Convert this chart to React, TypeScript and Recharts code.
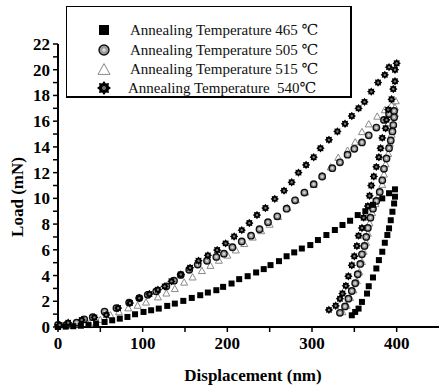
import { Legend, Scatter, ScatterChart, XAxis, YAxis } from 'recharts'

// nanoindentation load–displacement curves, loading + unloading branches
const load465 = [
  [0, 0], [9, 0.03], [18, 0.06], [27, 0.1], [36, 0.15], [45, 0.27], [55, 0.39], [64, 0.52], [73, 0.65], [82, 0.78],
  [91, 0.99], [101, 1.17], [110, 1.3], [119, 1.43], [129, 1.64], [138, 1.82], [148, 2.03], [158, 2.26], [168, 2.47],
  [177, 2.68], [187, 2.86], [195, 3.12], [205, 3.38], [214, 3.72], [224, 3.95], [234, 4.24], [243, 4.5], [251, 4.81],
  [261, 5.12], [270, 5.5], [279, 5.8], [288, 6.1], [298, 6.37], [307, 6.76], [317, 7.15], [327, 7.54], [336, 7.93],
  [345, 8.26], [354, 8.7], [363, 9.0], [372, 9.5], [383, 10.0], [391, 10.4], [398, 10.7]
]
const unload465 = [
  [398, 10.13], [397, 9.6], [395, 8.96], [393, 8.3], [391, 7.67], [389, 7.15], [386, 6.55], [383, 5.85], [379, 5.2],
  [376, 4.55], [372, 3.85], [367, 3.17], [365, 2.6], [359, 1.95], [355, 1.43], [351, 1.17], [347, 0.91]
]

const load505 = [
  [0, 0.16], [10, 0.16], [22, 0.34], [31, 0.6], [41, 0.76], [55, 1.2], [69, 1.47], [84, 1.9], [96, 2.25], [106, 2.5],
  [116, 2.77], [128, 3.16], [137, 3.6], [145, 4.05], [155, 4.45], [165, 4.85], [176, 5.15], [187, 5.45], [196, 5.7],
  [206, 6.2], [217, 6.65], [228, 7.1], [238, 7.6], [248, 8.15], [259, 8.6], [270, 9.2], [280, 9.85], [291, 10.45],
  [302, 11.1], [312, 11.7], [324, 12.35], [333, 12.8], [342, 13.4], [350, 13.85], [359, 14.35], [367, 14.9],
  [376, 15.5], [385, 16.1], [391, 16.55], [397, 16.8]
]
const unload505 = [
  [397, 16.3], [396, 15.7], [395, 15.2], [393, 14.5], [391, 13.9], [388, 13.1], [385, 12.3], [383, 11.4], [380, 10.5],
  [376, 9.8], [372, 9.2], [369, 8.5], [366, 7.7], [364, 7.0], [362, 6.3], [359, 5.65], [357, 4.9], [354, 4.1],
  [351, 3.4], [347, 2.8], [343, 2.2], [339, 1.6], [333, 1.1]
]

const load515 = [
  [0, 0.1], [12, 0.15], [24, 0.25], [37, 0.3], [50, 0.6], [62, 0.95], [72, 1.2], [83, 1.5], [94, 1.7], [104, 1.95],
  [118, 2.35], [128, 2.65], [138, 3.0], [149, 3.5], [159, 3.9], [170, 4.4], [180, 4.8], [190, 5.2], [200, 5.6],
  [210, 6.0], [220, 6.5], [230, 7.0], [240, 7.5], [250, 8.0], [260, 8.6], [271, 9.3], [281, 9.9], [292, 10.5],
  [302, 11.1], [312, 11.8], [322, 12.45], [331, 13.2], [342, 13.75], [351, 14.4], [359, 15.2], [367, 15.8],
  [377, 16.4], [386, 16.9], [394, 17.3], [399, 17.6]
]
const unload515 = [
  [398, 17.1], [398, 16.6], [396, 15.8], [394, 15.0], [392, 14.3], [390, 13.5], [387, 12.7], [385, 11.9], [383, 11.1],
  [379, 10.3], [375, 9.6], [371, 8.9], [368, 8.1], [366, 7.3], [364, 6.6], [361, 5.9], [359, 5.1], [356, 4.3],
  [353, 3.6], [349, 2.9], [345, 2.3], [341, 1.7], [336, 1.2]
]

const load540 = [
  [2, 0.16], [12, 0.34], [28, 0.55], [43, 0.75], [57, 0.94], [71, 1.47], [85, 1.86], [96, 2.25], [108, 2.56],
  [118, 2.9], [126, 3.16], [134, 3.55], [145, 4.08], [156, 4.6], [166, 5.15], [177, 5.57], [188, 5.98], [198, 6.5],
  [208, 7.04], [217, 7.53], [226, 8.08], [235, 8.7], [245, 9.25], [256, 9.96], [267, 10.6], [276, 11.25], [284, 12.0],
  [293, 12.6], [302, 13.2], [310, 13.9], [320, 14.55], [330, 15.2], [339, 15.8], [347, 16.4], [355, 17.0],
  [362, 17.5], [370, 18.3], [378, 19.0], [386, 19.6], [391, 20.2], [400, 20.5]
]
const unload540 = [
  [398, 20.0], [398, 19.1], [396, 18.5], [394, 17.7], [390, 16.9], [388, 16.1], [387, 15.45], [383, 14.7], [381, 13.9],
  [379, 13.2], [376, 12.45], [373, 11.7], [370, 11.0], [368, 10.2], [366, 9.4], [361, 8.5], [359, 7.7], [355, 7.1],
  [353, 6.3], [350, 5.5], [347, 4.8], [343, 3.95], [340, 3.2], [336, 2.6], [333, 2.2], [328, 1.65], [320, 1.33]
]

const seriesNames = [
  'Annealing Temperature 465 ℃',
  'Annealing Temperature 505 ℃',
  'Annealing Temperature 515 ℃',
  'Annealing Temperature  540℃'
]

const xTicks = [0, 50, 100, 150, 200, 250, 300, 350, 400]
const yTicks = [0, 1, 2, 3, 4, 5, 6, 7, 8, 9, 10, 11, 12, 13, 14, 15, 16, 17, 18, 19, 20, 21, 22]

const toPoints = (rows: number[][]) => rows.map(([x, y]) => ({ x, y }))

const serif = 'Liberation Serif, DejaVu Serif, serif'

function Square({ cx, cy, s = 6 }: any) {
  return <rect x={cx - s / 2} y={cy - s / 2} width={s} height={s} fill="#000" />
}

function Dot({ cx, cy, r = 3.2 }: any) {
  return (
    <g>
      <circle cx={cx} cy={cy} r={r} fill="#9c9c9c" stroke="#111" strokeWidth={1.4} />
      <circle cx={cx} cy={cy} r={r * 0.35} fill="#ddd" />
    </g>
  )
}

function Tri({ cx, cy, s = 7 }: any) {
  const h = s * 0.9
  return (
    <polygon
      points={`${cx},${cy - h / 2} ${cx - s / 2},${cy + h / 2} ${cx + s / 2},${cy + h / 2}`}
      fill="#fff"
      stroke="#8a8a8a"
      strokeWidth={1}
    />
  )
}

function Star({ cx, cy, r = 4.2 }: any) {
  const pts: string[] = []
  for (let i = 0; i < 16; i++) {
    const a = (Math.PI / 8) * i - Math.PI / 2
    const rr = i % 2 === 0 ? r : r * 0.7
    pts.push(`${cx + rr * Math.cos(a)},${cy + rr * Math.sin(a)}`)
  }
  return (
    <g>
      <polygon points={pts.join(' ')} fill="#000" />
      <circle cx={cx} cy={cy} r={r * 0.28} fill="#777" />
    </g>
  )
}

function LegendBox() {
  const rowY = [23, 43, 62, 81]
  const icons = [
    <Square cx={37} cy={rowY[0]} s={10} />,
    <Dot cx={37} cy={rowY[1]} r={5} />,
    <Tri cx={37} cy={rowY[2]} s={12} />,
    <Star cx={37} cy={rowY[3]} r={7} />
  ]
  return (
    <div
      style={{
        width: 283,
        height: 89,
        borderStyle: 'solid',
        borderColor: '#000',
        borderWidth: '1.5px 2.5px 2.5px 1.5px',
        background: '#fff'
      }}
    >
      <svg width={283} height={89} style={{ display: 'block' }}>
        {icons.map((icon, i) => (
          <g key={i}>{icon}</g>
        ))}
        {seriesNames.map((name, i) => (
          <text
            key={name}
            x={i === 3 ? 61 : 63}
            y={rowY[i] + 5}
            fontSize={15}
            fill="#111"
            style={{ whiteSpace: 'pre', fontFamily: serif }}
          >
            {name}
          </text>
        ))}
      </svg>
    </div>
  )
}

const tickStyle = { fill: '#000', fontSize: 17, fontWeight: 'bold', style: { fontFamily: serif } }

export default function App() {
  return (
    <div style={{ position: 'absolute', left: 0, top: 0, background: '#fff', fontFamily: serif }}>
      <ScatterChart width={439} height={386} margin={{ top: 44, right: 0, bottom: 0, left: 0 }}>
        <XAxis
          type="number"
          dataKey="x"
          domain={[0, 450]}
          ticks={xTicks}
          interval={0}
          height={59}
          stroke="#000"
          axisLine={{ stroke: '#000', strokeWidth: 2 }}
          tickLine={{ stroke: '#000', strokeWidth: 1.5 }}
          tickSize={5}
          tickMargin={5}
          tick={tickStyle}
          tickFormatter={(v: number) => (v % 100 === 0 ? String(v) : '')}
          label={() => (
            <text x={253} y={381} textAnchor="middle" fontSize={17} fontWeight="bold" fill="#000" style={{ fontFamily: serif }}>
              Displacement (nm)
            </text>
          )}
        />
        <YAxis
          type="number"
          dataKey="y"
          domain={[0, 22]}
          ticks={yTicks}
          interval={0}
          width={58}
          stroke="#000"
          axisLine={{ stroke: '#000', strokeWidth: 2 }}
          tickLine={{ stroke: '#000', strokeWidth: 1.5 }}
          tickSize={5}
          tickMargin={3}
          tick={tickStyle}
          tickFormatter={(v: number) => (v % 2 === 0 ? String(v) : '')}
          label={() => (
            <text
              x={17}
              y={197}
              transform="rotate(-90 17 197)"
              textAnchor="middle"
              dominantBaseline="central"
              fontSize={17}
              fontWeight="bold"
              fill="#000"
              style={{ fontFamily: serif }}
            >
              Load (mN)
            </text>
          )}
        />
        <Legend
          layout="vertical"
          align="center"
          verticalAlign="middle"
          content={() => <LegendBox />}
          wrapperStyle={{ left: 66, top: 6, width: 287, height: 93 }}
        />
        <Scatter name="515" data={toPoints([...load515, ...unload515])} shape={(p: any) => <Tri {...p} />} isAnimationActive={false} />
        <Scatter name="505" data={toPoints([...load505, ...unload505])} shape={(p: any) => <Dot {...p} />} isAnimationActive={false} />
        <Scatter name="465" data={toPoints([...load465, ...unload465])} shape={(p: any) => <Square {...p} />} isAnimationActive={false} />
        <Scatter name="540" data={toPoints([...load540, ...unload540])} shape={(p: any) => <Star {...p} />} isAnimationActive={false} />
      </ScatterChart>
    </div>
  )
}
